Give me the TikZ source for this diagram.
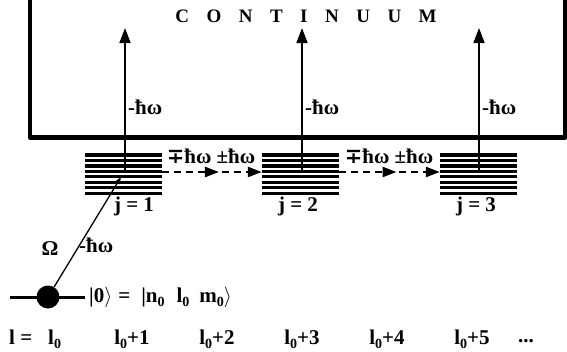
\documentclass[tikz,border=0pt]{standalone}
\usepackage{fontspec}
\setmainfont{Liberation Serif}
\newfontfamily\dvs{DejaVu Serif}
\usetikzlibrary{arrows.meta,decorations.markings}
\newcommand\zsub{\raisebox{-0.45ex}{\fontsize{14}{14}\selectfont 0}}
\begin{document}
\begin{tikzpicture}[x=1pt,y=-1pt,
  every node/.style={font=\bfseries\fontsize{21}{21}\selectfont, inner sep=0pt},
  boxline/.style={line width=4.5pt, line join=round},
  level/.style={line width=3.2pt},
  uparrow/.style={line width=1.6pt, -{Triangle[length=15pt,width=11pt]}},
  dasharrow/.style={line width=2.4pt, dash pattern=on 7pt off 5pt,
     -{Triangle[length=14pt,width=10pt]},
     decoration={markings, mark=at position 0.57 with {\arrow{Triangle[length=14pt,width=10pt]}}},
     postaction={decorate}},
  stackbox/.style={minimum width=77pt, minimum height=40pt}]
\useasboundingbox (0,0) rectangle (567,351);

% continuum box
\coordinate (bl0) at (30,-3);
\coordinate (bl1) at (30,137.5);
\coordinate (br1) at (565,137.5);
\coordinate (br0) at (565,-3);
\draw[boxline] (bl0) -- (bl1) -- (br1) -- (br0);
\node[font=\bfseries\fontsize{19}{19}\selectfont] (cont) at (306,16) {\spaceskip=17.5pt C O N T I N U U M};

% level stacks
\foreach \sx in {85,262,440}{
  \foreach \k in {0,...,7}{
    \draw[level] (\sx,155+\k*5.45) -- ++(77,0);
  }
}
\node[stackbox] (s1) at (123.5,172) {};
\node[stackbox] (s2) at (300.5,172) {};
\node[stackbox] (s3) at (478.5,172) {};

% vertical arrows into the continuum
\coordinate (v1) at (125,173); \coordinate (t1) at (125,28);
\coordinate (v2) at (302,173); \coordinate (t2) at (302,28);
\coordinate (v3) at (479,173); \coordinate (t3) at (479,28);
\draw[uparrow] (v1) -- (t1);
\draw[uparrow] (v2) -- (t2);
\draw[uparrow] (v3) -- (t3);
\node[anchor=west] (h1) at (128,107) {-ħω};
\node[anchor=west] (h2) at (305,107) {-ħω};
\node[anchor=west] (h3) at (482,107) {-ħω};

% dashed transitions
\draw[dasharrow] (s1.east) -- (s2.west);
\draw[dasharrow] (s2.east) -- (s3.west);
\node (m1) at (211,156) {{\dvs ∓}ħω ±ħω};
\node (m2) at (389,156) {{\dvs ∓}ħω ±ħω};

% j labels
\node (j1) at (134,206) {j = 1};
\node (j2) at (298,206) {j = 2};
\node (j3) at (476,206) {j = 3};

% ground state
\coordinate (g1) at (10,297);
\coordinate (g2) at (85,297);
\draw[line width=3pt] (g1) -- (g2);
\node[circle, fill, minimum size=23pt] (dot) at (48,297) {};
\coordinate (a1) at (121,177);
\draw[line width=1.3pt, -{Triangle[length=7pt,width=5pt]}] (dot) -- (a1);
\node (om) at (50,249) {Ω};
\node[anchor=west] (h0) at (79,245) {-ħω};
\node[anchor=west] (ket) at (89,297) {|0$\rangle$\hspace{6pt}=\hspace{11pt}|n\zsub\hspace{12pt}l\zsub\hspace{10pt}m\zsub$\rangle$};

% l labels
\node[anchor=west] (l0) at (9,339) {l =\hspace{16pt}l\zsub};
\node (l1) at (132,339) {l\zsub+1};
\node (l2) at (217,339) {l\zsub+2};
\node (l3) at (302,339) {l\zsub+3};
\node (l4) at (387,339) {l\zsub+4};
\node (l5) at (472,339) {l\zsub+5};
\node (ld) at (526,341) {...};
\end{tikzpicture}
\end{document}
